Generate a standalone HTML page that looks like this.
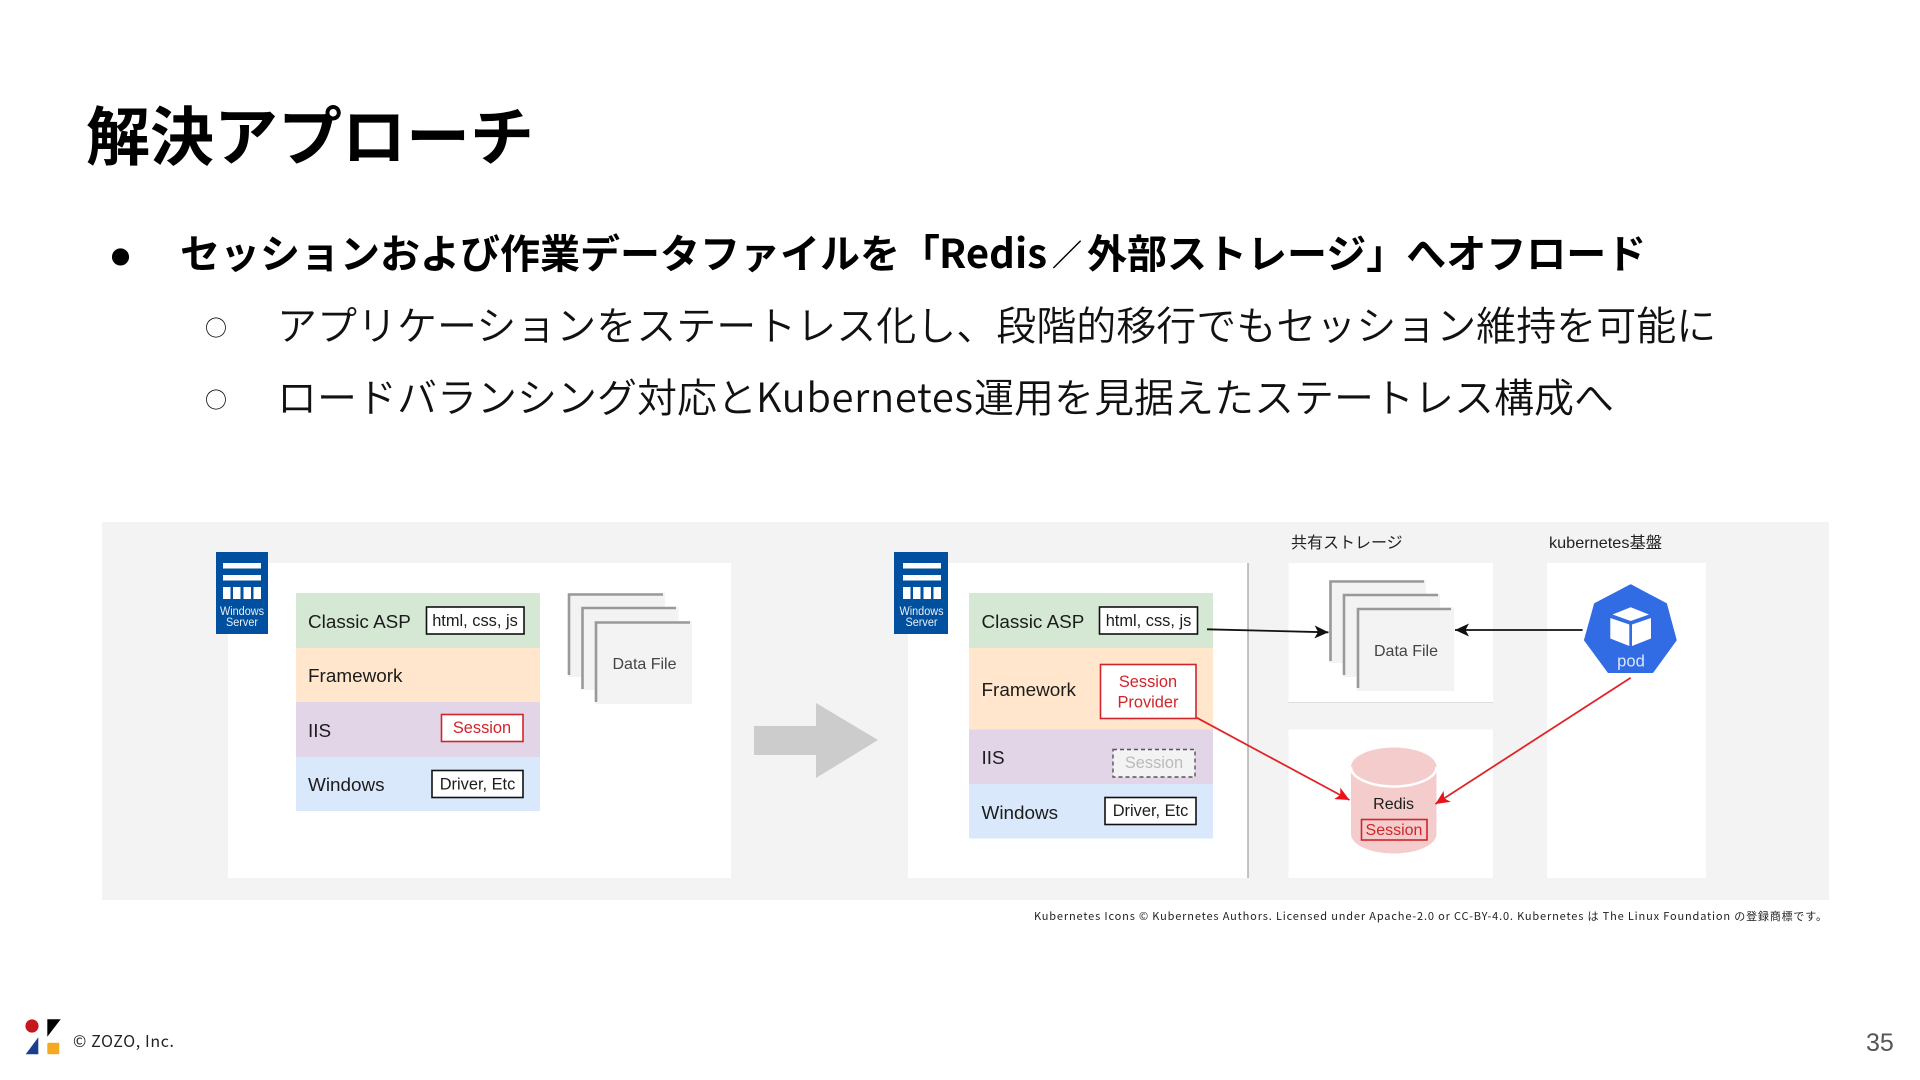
<!DOCTYPE html>
<html lang="ja">
<head>
<meta charset="utf-8">
<title>解決アプローチ</title>
<style>
html,body{margin:0;padding:0;background:#fff;width:1920px;height:1080px;overflow:hidden}
svg{display:block;position:absolute;left:0;top:0}
.jp{font-family:"Noto Sans CJK JP","Liberation Sans",sans-serif}
.ar{font-family:"Liberation Sans","Noto Sans CJK JP",sans-serif}
.l{font-size:18.9px;fill:#1c1c1c}
.b{font-size:16.4px;fill:#1c1c1c}
.r{font-size:16.4px;fill:#d0252b}
.d{font-size:16px;fill:#444}
.w{font-size:12.4px;fill:#e8eff7;text-anchor:middle}
.t{font-size:40px;font-weight:700;fill:#000}
.n{font-size:40px;font-weight:350;fill:#111}
</style>
</head>
<body>
<svg width="1920" height="1080" viewBox="0 0 1920 1080" xmlns="http://www.w3.org/2000/svg">
<defs>
<marker id="ak" markerUnits="userSpaceOnUse" markerWidth="15" markerHeight="13" refX="14" refY="6.5" orient="auto"><path d="M0,0 L14,6.5 L0,13 L3.5,6.5z" fill="#111"/></marker>
<marker id="ar" markerUnits="userSpaceOnUse" markerWidth="15" markerHeight="13" refX="14" refY="6.5" orient="auto"><path d="M0,0 L14,6.5 L0,13 L3.5,6.5z" fill="#e8141a"/></marker>
</defs>

<!-- heading and bullets -->
<text class="jp" x="86" y="160" font-size="64" font-weight="700" fill="#000">解決アプローチ</text>
<text class="jp" x="111" y="264" font-size="19" fill="#000">●</text>
<text class="jp t" x="180" y="268">セッションおよび作業データファイルを「</text>
<text class="jp t" x="939" y="268" textLength="108">Redis</text>
<text class="jp" x="1052" y="266" font-size="30" font-weight="700" fill="#000">／</text>
<text class="jp t" x="1087" y="268">外部ストレージ」へオフロード</text>
<text class="jp" x="205" y="336" font-size="22" fill="#111">○</text>
<text class="jp n" x="277" y="340">アプリケーションをステートレス化し、段階的移行でもセッション維持を可能に</text>
<text class="jp" x="205" y="408" font-size="22" fill="#111">○</text>
<text class="jp n" x="277" y="412">ロードバランシング対応と</text>
<text class="jp n" x="756" y="412" textLength="217">Kubernetes</text>
<text class="jp n" x="974" y="412">運用を見据えたステートレス構成へ</text>

<!-- panel -->
<rect x="102" y="522" width="1727" height="378" fill="#f3f3f3"/>

<!-- left white -->
<rect x="228" y="563" width="503" height="315" fill="#fff"/>
<!-- left icon -->
<rect x="216" y="552" width="52" height="82" fill="#01509f"/>
<rect x="223" y="563" width="38" height="5.5" fill="#fff"/>
<rect x="223" y="575" width="38" height="5.5" fill="#fff"/>
<rect x="223" y="587" width="7.5" height="12" fill="#fff"/>
<rect x="233" y="587" width="7.5" height="12" fill="#fff"/>
<rect x="243.500" y="587" width="7.5" height="12" fill="#fff"/>
<rect x="253.500" y="587" width="7.5" height="12" fill="#fff"/>
<text class="ar w" x="242" y="615" textLength="44" lengthAdjust="spacingAndGlyphs">Windows</text>
<text class="ar w" x="242" y="626" textLength="32" lengthAdjust="spacingAndGlyphs">Server</text>

<!-- left stack -->
<rect x="296" y="593" width="244" height="55" fill="#d5e8d4"/>
<rect x="296" y="648" width="244" height="54" fill="#ffe6cc"/>
<rect x="296" y="702" width="244" height="55" fill="#e1d5e7"/>
<rect x="296" y="757" width="244" height="54" fill="#dae8fc"/>
<text class="ar l" x="308" y="628">Classic ASP</text>
<text class="ar l" x="308" y="682">Framework</text>
<text class="ar l" x="308" y="737">IIS</text>
<text class="ar l" x="308" y="791">Windows</text>
<rect x="426.500" y="607" width="97.500" height="27" fill="#fff" stroke="#111" stroke-width="1.6"/>
<text class="ar b" x="475" y="626" text-anchor="middle">html, css, js</text>
<rect x="441.500" y="714.500" width="81.500" height="27" fill="#fff" stroke="#d0252b" stroke-width="1.6"/>
<text class="ar r" x="482" y="733" text-anchor="middle">Session</text>
<rect x="432" y="770.500" width="91" height="27" fill="#fff" stroke="#111" stroke-width="1.6"/>
<text class="ar b" x="477.500" y="789.500" text-anchor="middle">Driver, Etc</text>

<!-- left files -->
<rect x="568" y="593" width="97" height="84" fill="#f3f3f3"/>
<path d="M569,675V594.500H663" fill="none" stroke="#999" stroke-width="2.6"/>
<rect x="581.500" y="607" width="97" height="83" fill="#f3f3f3"/>
<path d="M582.500,689V608H676" fill="none" stroke="#999" stroke-width="2.6"/>
<rect x="595" y="621" width="97" height="83" fill="#f3f3f3"/>
<path d="M596,702V622.500H690" fill="none" stroke="#999" stroke-width="2.6"/>
<text class="ar d" x="644.500" y="669" text-anchor="middle">Data File</text>

<!-- big arrow -->
<path d="M754,726H816V703L878,740L816,778V755H754z" fill="#ccc"/>

<!-- right white -->
<rect x="908" y="563" width="340" height="315" fill="#fff"/>
<path d="M1248,563V878" stroke="#aaa" stroke-width="1.4"/>
<!-- right icon -->
<rect x="894" y="552" width="54" height="82" fill="#01509f"/>
<rect x="903" y="563" width="38" height="5.5" fill="#fff"/>
<rect x="903" y="575" width="38" height="5.5" fill="#fff"/>
<rect x="903" y="587" width="7.500" height="12" fill="#fff"/>
<rect x="913" y="587" width="7.500" height="12" fill="#fff"/>
<rect x="923.500" y="587" width="7.500" height="12" fill="#fff"/>
<rect x="933.500" y="587" width="7.500" height="12" fill="#fff"/>
<text class="ar w" x="921.500" y="615" textLength="44" lengthAdjust="spacingAndGlyphs">Windows</text>
<text class="ar w" x="921.500" y="626" textLength="32" lengthAdjust="spacingAndGlyphs">Server</text>

<!-- right stack -->
<rect x="969" y="593" width="244" height="55" fill="#d5e8d4"/>
<rect x="969" y="648" width="244" height="81.500" fill="#ffe6cc"/>
<rect x="969" y="729.500" width="244" height="54.500" fill="#e1d5e7"/>
<rect x="969" y="784" width="244" height="54.500" fill="#dae8fc"/>
<text class="ar l" x="981.500" y="628">Classic ASP</text>
<text class="ar l" x="981.500" y="696">Framework</text>
<text class="ar l" x="981.500" y="764">IIS</text>
<text class="ar l" x="981.500" y="819">Windows</text>
<rect x="1099.500" y="607" width="98" height="27" fill="#fff" stroke="#111" stroke-width="1.6"/>
<text class="ar b" x="1148.500" y="626" text-anchor="middle">html, css, js</text>
<rect x="1100.500" y="664.500" width="95.500" height="54" fill="#fff" stroke="#d0252b" stroke-width="1.6"/>
<text class="ar r" x="1148" y="687" text-anchor="middle">Session</text>
<text class="ar r" x="1148" y="707.500" text-anchor="middle">Provider</text>
<rect x="1113" y="749.500" width="82" height="27.500" fill="#f3f3f3" stroke="#555" stroke-width="1.4" stroke-dasharray="4 3"/>
<text class="ar" font-size="16.4" fill="#bbb" x="1154" y="768" text-anchor="middle">Session</text>
<rect x="1105" y="797.500" width="91" height="27" fill="#fff" stroke="#111" stroke-width="1.6"/>
<text class="ar b" x="1150.500" y="816" text-anchor="middle">Driver, Etc</text>

<!-- storage headings -->
<text class="ar" x="1291" y="548" font-size="16" fill="#222">共有ストレージ</text>
<text class="ar" x="1549" y="548" font-size="16" fill="#222" textLength="113" lengthAdjust="spacingAndGlyphs">kubernetes基盤</text>

<!-- storage boxes -->
<rect x="1288.500" y="563" width="204.500" height="139" fill="#fff"/>
<path d="M1288.500,702.500H1493" stroke="#ddd" stroke-width="1"/>
<rect x="1288.500" y="729.500" width="204.500" height="148.500" fill="#fff"/>
<rect x="1547" y="563" width="159" height="315" fill="#fff"/>

<!-- right files -->
<rect x="1329" y="580" width="97" height="83" fill="#f3f3f3"/>
<path d="M1330.500,661V581.500H1424" fill="none" stroke="#999" stroke-width="2.6"/>
<rect x="1343" y="594" width="97" height="83" fill="#f3f3f3"/>
<path d="M1344,675V595H1438" fill="none" stroke="#999" stroke-width="2.6"/>
<rect x="1356.500" y="607.500" width="97.500" height="83.500" fill="#f3f3f3"/>
<path d="M1358,688V609H1451" fill="none" stroke="#999" stroke-width="2.6"/>
<text class="ar d" x="1406" y="656" text-anchor="middle">Data File</text>

<!-- pod -->
<path d="M1630.700,585.300L1666,604L1675.700,640L1652.500,672H1608.500L1585,640L1595,604z" fill="#326ce5" stroke="#326ce5" stroke-width="2" stroke-linejoin="round"/>
<path d="M1630.700,607.300L1649,614.500L1630.700,621L1612.500,614.500z" fill="#fff"/>
<path d="M1610.300,618L1629.300,624.500V646L1610.300,638.500z" fill="#fff"/>
<path d="M1651,618L1632,624.500V646L1651,638.500z" fill="#fff"/>
<text class="ar" font-size="16.6" fill="#dde6fa" x="1631" y="666.500" text-anchor="middle">pod</text>

<!-- redis -->
<path d="M1351,767V834A42.750,19.500 0 0 0 1436.500,834V767A42.750,19.500 0 0 0 1351,767z" fill="#f4cccc"/>
<path d="M1351,767A42.750,19.500 0 0 0 1436.500,767" fill="none" stroke="#fff" stroke-width="2.500"/>
<text class="ar" font-size="16" fill="#1c1c1c" x="1393.600" y="809" text-anchor="middle">Redis</text>
<rect x="1361.500" y="819.500" width="65.500" height="20.500" fill="none" stroke="#d0252b" stroke-width="1.6"/>
<text class="ar" font-size="16" fill="#d0252b" x="1394" y="835" text-anchor="middle">Session</text>

<!-- connectors -->
<line x1="1207" y1="629.300" x2="1328.500" y2="632.300" stroke="#111" stroke-width="1.8" marker-end="url(#ak)"/>
<line x1="1582.600" y1="630" x2="1455" y2="630" stroke="#111" stroke-width="1.8" marker-end="url(#ak)"/>
<line x1="1196.700" y1="717.700" x2="1349.500" y2="800" stroke="#e0242a" stroke-width="1.8" marker-end="url(#ar)"/>
<line x1="1630.700" y1="677.700" x2="1435.400" y2="804" stroke="#e0242a" stroke-width="1.8" marker-end="url(#ar)"/>

<!-- attribution -->
<text class="jp" x="1034" y="920" font-size="11" fill="#222" textLength="793">Kubernetes Icons © Kubernetes Authors. Licensed under Apache-2.0 or CC-BY-4.0. Kubernetes は The Linux Foundation の登録商標です。</text>

<!-- footer -->
<circle cx="32" cy="1026" r="6.600" fill="#c8161d"/>
<path d="M47.300,1019.300H60.700L47.300,1036.700z" fill="#000"/>
<path d="M38.300,1037.300V1054.300H25.700z" fill="#1b3f8f"/>
<rect x="47.300" y="1042.700" width="12" height="11.600" rx="1.500" fill="#f5a922"/>
<text class="jp" x="73" y="1047" font-size="16" fill="#222" textLength="101">© ZOZO, Inc.</text>
<text class="ar" x="1866" y="1051" font-size="25" fill="#555">35</text>
</svg>
</body>
</html>
